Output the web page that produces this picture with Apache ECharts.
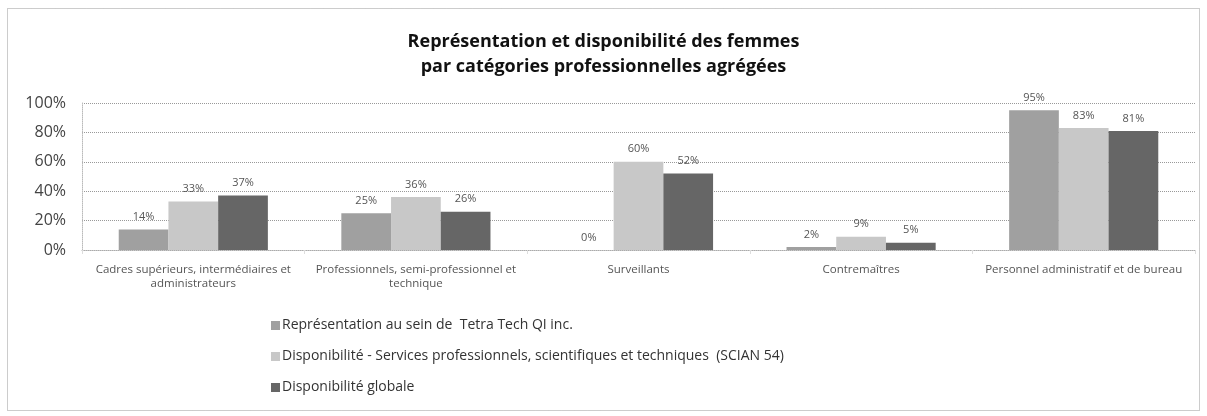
<!DOCTYPE html>
<html>
<head>
<meta charset="utf-8">
<script src="https://cdn.jsdelivr.net/npm/echarts@6/dist/echarts.min.js"></script>
<style>
  html, body { margin: 0; padding: 0; background: #fff; }
  #chart { width: 1207px; height: 416px; }
</style>
</head>
<body>
<div id="chart"></div>
<script>
// categories and values (in %)
const categories = [
  "Cadres supérieurs, intermédiaires et\nadministrateurs",
  "Professionnels, semi-professionnel et\ntechnique",
  "Surveillants",
  "Contremaîtres",
  "Personnel administratif et de bureau"
];
const seriesNames = [
  "Représentation au sein de  Tetra Tech QI inc.",
  "Disponibilité - Services professionnels, scientifiques et techniques  (SCIAN 54)",
  "Disponibilité globale"
];
const representation = [14, 25, 0, 2, 95];
const dispoSCIAN = [33, 36, 60, 9, 83];
const dispoGlobale = [37, 26, 52, 5, 81];
const yTicks = [0, 20, 40, 60, 80, 100];

const colors = ["#a0a0a0", "#c8c8c8", "#666666"];
const font = "'Open Sans', 'Noto Sans', sans-serif";

const chart = echarts.init(document.getElementById("chart"));

function barSeries(name, data, color) {
  return {
    name: name,
    type: "bar",
    data: data,
    barGap: "0%",
    barCategoryGap: "33%",
    itemStyle: { color: color },
    label: {
      show: true,
      position: "top",
      formatter: "{c}%",
      fontFamily: font,
      fontSize: 11,
      color: "#555",
      distance: 7
    }
  };
}

chart.setOption({
  animation: false,
  backgroundColor: "#fff",
  title: {
    text: "Représentation et disponibilité des femmes\npar catégories professionnelles agrégées",
    left: "center",
    top: 24,
    textStyle: {
      fontFamily: font,
      fontSize: 18,
      fontWeight: "bold",
      color: "#111",
      lineHeight: 25
    }
  },
  legend: {
    orient: "vertical",
    left: 266,
    top: 312,
    itemGap: 14,
    itemWidth: 9,
    itemHeight: 9,
    icon: "rect",
    textStyle: { fontFamily: font, fontSize: 14, color: "#333", padding: [0, 0, 0, -3], lineHeight: 17 },
    data: seriesNames
  },
  grid: { left: 82, right: 12, top: 103, bottom: 166 },
  xAxis: {
    type: "category",
    data: categories,
    axisLine: { lineStyle: { color: "#aaa", type: "dotted" } },
    axisTick: { show: true, length: 4, lineStyle: { color: "#ddd" } },
    axisLabel: {
      fontFamily: font,
      fontSize: 11.5,
      color: "#555",
      lineHeight: 14,
      interval: 0,
      margin: 13
    }
  },
  yAxis: {
    type: "value",
    min: yTicks[0],
    max: yTicks[yTicks.length - 1],
    interval: 20,
    axisLine: { show: true, lineStyle: { color: "#bbb", type: "dotted" } },
    axisLabel: {
      fontFamily: font,
      fontSize: 16,
      color: "#444",
      formatter: "{value}%",
      margin: 16
    },
    splitLine: { lineStyle: { color: "#999", type: "dotted" } }
  },
  graphic: [{
    type: "rect",
    shape: { x: 7.5, y: 8.5, width: 1192, height: 402 },
    style: { fill: "none", stroke: "#999", lineWidth: 1, lineDash: [1, 1] },
    silent: true
  }],
  series: [
    barSeries(seriesNames[0], representation, colors[0]),
    barSeries(seriesNames[1], dispoSCIAN, colors[1]),
    barSeries(seriesNames[2], dispoGlobale, colors[2])
  ]
});
</script>
</body>
</html>
